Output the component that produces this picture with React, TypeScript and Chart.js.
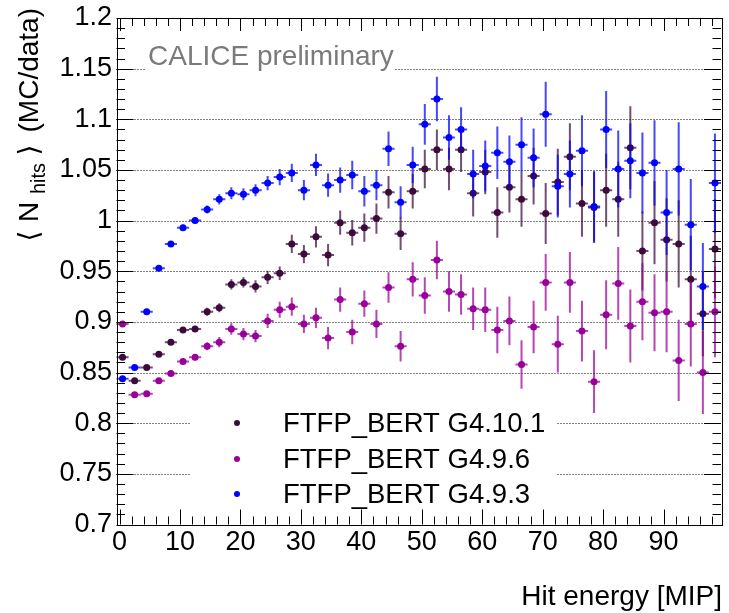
import React, { useEffect, useRef } from 'react';
import { Chart, registerables } from 'chart.js';

Chart.register(...registerables);

// ---- data ----
const binCenters = [
  0.5, 2.5, 4.5, 6.5, 8.5, 10.5, 12.5, 14.5, 16.5, 18.5,
  20.5, 22.5, 24.5, 26.5, 28.5, 30.5, 32.5, 34.5, 36.5, 38.5,
  40.5, 42.5, 44.5, 46.5, 48.5, 50.5, 52.5, 54.5, 56.5, 58.5,
  60.5, 62.5, 64.5, 66.5, 68.5, 70.5, 72.5, 74.5, 76.5, 78.5,
  80.5, 82.5, 84.5, 86.5, 88.5, 90.5, 92.5, 94.5, 96.5, 98.5,
];
const binHalfWidth = 1;

const seriesLabels = ['FTFP_BERT G4.10.1', 'FTFP_BERT G4.9.6', 'FTFP_BERT G4.9.3'];
const seriesColors = ['#3c0b3c', '#990099', '#0000ff'];
const seriesErrColors = ['rgba(60,11,60,0.72)', 'rgba(153,0,153,0.72)', 'rgba(0,0,255,0.72)'];

const g4101 = [
  0.865, 0.842, 0.855, 0.868, 0.880, 0.892, 0.893, 0.910, 0.914, 0.937,
  0.939, 0.935, 0.944, 0.948, 0.977, 0.967, 0.984, 0.966, 0.998, 0.988,
  0.993, 1.002, 1.028, 0.987, 1.029, 1.051, 1.070, 1.051, 1.070, 1.027,
  1.048, 1.008, 1.033, 1.021, 1.044, 1.007, 1.038, 1.063, 1.017, 1.013,
  1.030, 1.021, 1.072, 0.970, 0.998, 0.981, 0.977, 0.942, 0.908, 0.972,
];
const g4101Err = [
  0.002, 0.002, 0.002, 0.002, 0.002, 0.003, 0.003, 0.004, 0.0045, 0.005,
  0.005, 0.006, 0.0065, 0.0066, 0.009, 0.009, 0.0105, 0.011, 0.012, 0.0125,
  0.014, 0.015, 0.016, 0.016, 0.017, 0.019, 0.020, 0.021, 0.022, 0.023,
  0.022, 0.025, 0.025, 0.027, 0.028, 0.030, 0.033, 0.033, 0.033, 0.035,
  0.036, 0.037, 0.041, 0.039, 0.041, 0.041, 0.043, 0.043, 0.042, 0.049,
];

const g496 = [
  0.898, 0.828, 0.829, 0.842, 0.849, 0.861, 0.865, 0.876, 0.880, 0.893,
  0.888, 0.886, 0.901, 0.912, 0.915, 0.898, 0.904, 0.884, 0.922, 0.890,
  0.918, 0.898, 0.934, 0.876, 0.942, 0.926, 0.961, 0.930, 0.927, 0.913,
  0.912, 0.892, 0.901, 0.858, 0.895, 0.939, 0.878, 0.939, 0.891, 0.841,
  0.907, 0.938, 0.896, 0.920, 0.909, 0.910, 0.862, 0.898, 0.850, 0.910,
];
const g496Err = [
  0.002, 0.002, 0.002, 0.002, 0.002, 0.003, 0.003, 0.004, 0.005, 0.0056,
  0.006, 0.006, 0.007, 0.008, 0.009, 0.009, 0.010, 0.011, 0.012, 0.012,
  0.013, 0.014, 0.015, 0.015, 0.017, 0.018, 0.019, 0.020, 0.020, 0.021,
  0.022, 0.023, 0.024, 0.024, 0.026, 0.028, 0.028, 0.030, 0.030, 0.031,
  0.034, 0.036, 0.036, 0.038, 0.038, 0.040, 0.040, 0.042, 0.041, 0.045,
];

const g493 = [
  0.844, 0.855, 0.910, 0.953, 0.977, 0.993, 1.000, 1.011, 1.021, 1.027,
  1.026, 1.030, 1.037, 1.043, 1.047, 1.030, 1.055, 1.035, 1.040, 1.045,
  1.029, 1.035, 1.071, 1.018, 1.055, 1.095, 1.120, 1.082, 1.090, 1.046,
  1.054, 1.067, 1.058, 1.075, 1.062, 1.105, 1.034, 1.046, 1.069, 1.014,
  1.090, 1.051, 1.059, 1.047, 1.057, 1.008, 1.051, 0.996, 0.935, 1.037,
];
const g493Err = [
  0.002, 0.002, 0.002, 0.002, 0.002, 0.003, 0.003, 0.004, 0.005, 0.006,
  0.006, 0.006, 0.007, 0.008, 0.009, 0.010, 0.011, 0.0115, 0.0125, 0.014,
  0.015, 0.015, 0.017, 0.016, 0.018, 0.020, 0.022, 0.022, 0.022, 0.024,
  0.025, 0.026, 0.026, 0.027, 0.029, 0.032, 0.031, 0.033, 0.035, 0.035,
  0.038, 0.038, 0.037, 0.040, 0.042, 0.042, 0.046, 0.045, 0.043, 0.049,
];

const seriesValues = [g4101, g496, g493];
const seriesErrors = [g4101Err, g496Err, g493Err];
const seriesDrawOrder = [2, 1, 0];

const xTickValues = [0, 10, 20, 30, 40, 50, 60, 70, 80, 90];
const xTickLabels = ['0', '10', '20', '30', '40', '50', '60', '70', '80', '90'];
const yTickValues = [0.7, 0.75, 0.8, 0.85, 0.9, 0.95, 1.0, 1.05, 1.1, 1.15, 1.2];
const yTickLabels = ['0.7', '0.75', '0.8', '0.85', '0.9', '0.95', '1', '1.05', '1.1', '1.15', '1.2'];
const xMin = -0.5;
const xMax = 99.5;
const yMin = 0.7;
const yMax = 1.2;
const xMinorStep = 2;
const yMinorStep = 0.01;

const xTitle = 'Hit energy [MIP]';
const annotation = 'CALICE preliminary';

const FONT = '"Liberation Sans", Arial, Helvetica, sans-serif';

const rootPlugin = {
  id: 'rootStyle',
  beforeDatasetsDraw(chart: any) {
    const ctx = chart.ctx;
    const { left, right } = chart.chartArea;
    const ys = chart.scales.y;
    ctx.save();
    ctx.strokeStyle = '#000';
    ctx.lineWidth = 1;
    ctx.setLineDash([1, 2]);
    for (const v of yTickValues) {
      if (v <= yMin + 1e-9 || v >= yMax - 1e-9) continue;
      const py = Math.round(ys.getPixelForValue(v)) + 0.5;
      ctx.beginPath();
      ctx.moveTo(left, py);
      ctx.lineTo(right, py);
      ctx.stroke();
    }
    ctx.setLineDash([]);
    // white boxes behind legend and annotation text
    ctx.fillStyle = '#fff';
    ctx.fillRect(190, 398, 366, 117);
    ctx.fillRect(146, 42, 248, 29);
    ctx.restore();
  },
  beforeDatasetDraw(chart: any, args: any) {
    const i = args.index;
    const ctx = chart.ctx;
    const xs = chart.scales.x;
    const ys = chart.scales.y;
    const vals = seriesValues[i];
    const errs = seriesErrors[i];
    ctx.save();
    ctx.strokeStyle = seriesErrColors[i];
    ctx.lineWidth = 2;
    for (let k = 0; k < vals.length; k++) {
      const px = xs.getPixelForValue(binCenters[k]);
      const py = ys.getPixelForValue(vals[k]);
      const x0 = xs.getPixelForValue(binCenters[k] - binHalfWidth);
      const x1 = xs.getPixelForValue(binCenters[k] + binHalfWidth);
      const y0 = ys.getPixelForValue(vals[k] - errs[k]);
      const y1 = ys.getPixelForValue(vals[k] + errs[k]);
      ctx.beginPath();
      ctx.moveTo(x0, py);
      ctx.lineTo(x1, py);
      ctx.moveTo(px, y0);
      ctx.lineTo(px, y1);
      ctx.stroke();
    }
    ctx.restore();
  },
  afterDraw(chart: any) {
    const ctx = chart.ctx;
    const { left, right, top, bottom } = chart.chartArea;
    const xs = chart.scales.x;
    const ys = chart.scales.y;
    ctx.save();
    // frame
    ctx.strokeStyle = '#000';
    ctx.lineWidth = 1;
    ctx.strokeRect(Math.round(left) + 0.5, Math.round(top) + 0.5, Math.round(right - left), Math.round(bottom - top));
    // x ticks
    ctx.beginPath();
    for (let v = 0; v <= xMax; v += xMinorStep) {
      const major = xTickValues.includes(v);
      const len = major ? 15 : 8;
      const px = Math.round(xs.getPixelForValue(v)) + 0.5;
      ctx.moveTo(px, bottom);
      ctx.lineTo(px, bottom - len);
      ctx.moveTo(px, top);
      ctx.lineTo(px, top + (major ? 13 : 8));
    }
    // y ticks
    for (let j = 0; j <= Math.round((yMax - yMin) / yMinorStep); j++) {
      const v = yMin + j * yMinorStep;
      const major = j % 5 === 0;
      const len = major ? 17 : 8.5;
      const py = Math.round(ys.getPixelForValue(v)) + 0.5;
      ctx.moveTo(left, py);
      ctx.lineTo(left + len, py);
      ctx.moveTo(right, py);
      ctx.lineTo(right - len, py);
    }
    ctx.stroke();

    // annotation
    ctx.fillStyle = '#7a7a7a';
    ctx.font = `28px ${FONT}`;
    ctx.textAlign = 'left';
    ctx.textBaseline = 'alphabetic';
    ctx.fillText(annotation, 148, 65);

    // legend
    const legendY = [423, 459, 494];
    ctx.font = `27.5px ${FONT}`;
    ctx.textBaseline = 'middle';
    for (let i = 0; i < seriesLabels.length; i++) {
      ctx.fillStyle = seriesColors[i];
      ctx.beginPath();
      ctx.arc(237, legendY[i], 3, 0, Math.PI * 2);
      ctx.fill();
      ctx.fillStyle = '#000';
      ctx.fillText(seriesLabels[i], 283, legendY[i] + 1);
    }

    // x title
    ctx.font = `28px ${FONT}`;
    ctx.textBaseline = 'alphabetic';
    ctx.textAlign = 'right';
    ctx.fillStyle = '#000';
    ctx.fillText(xTitle, 722, 605);

    // y title (rotated)
    ctx.translate(38, 0);
    ctx.rotate(-Math.PI / 2);
    ctx.font = `28px ${FONT}`;
    ctx.textAlign = 'right';
    ctx.fillText('(MC/data)', -8, 0);
    ctx.textAlign = 'center';
    ctx.font = `28px "DejaVu Sans", ${FONT}`;
    ctx.fillText('\u27E9', -150, 0);
    ctx.fillText('\u27E8', -236, 0);
    ctx.font = `28px ${FONT}`;
    ctx.textAlign = 'left';
    ctx.fillText('N', -222, 0);
    ctx.font = `20px ${FONT}`;
    ctx.fillText('hits', -194, 7);
    ctx.restore();
  },
};

export default function App() {
  const canvasRef = useRef<HTMLCanvasElement | null>(null);

  useEffect(() => {
    if (!canvasRef.current) return;
    const datasets = seriesLabels.map((label, i) => ({
      label,
      data: binCenters.map((x, k) => ({ x, y: seriesValues[i][k] })),
      backgroundColor: seriesColors[i],
      borderColor: seriesColors[i],
      pointRadius: 3.5,
      pointBorderWidth: 0,
      pointHoverRadius: 3.5,
      showLine: false,
      order: seriesDrawOrder[i],
    }));
    const chart = new Chart(canvasRef.current, {
      type: 'scatter',
      data: { datasets },
      options: {
        animation: false,
        responsive: false,
        devicePixelRatio: 1,
        layout: { padding: { top: 15, right: 8, left: 0, bottom: 0 } },
        plugins: {
          legend: { display: false },
          tooltip: { enabled: false },
        },
        scales: {
          x: {
            type: 'linear',
            min: xMin,
            max: xMax,
            grid: { display: false, drawTicks: false },
            border: { display: false },
            afterBuildTicks: (scale: any) => {
              scale.ticks = xTickValues.map((v) => ({ value: v }));
            },
            afterFit: (scale: any) => {
              scale.height = 88.5;
            },
            ticks: {
              autoSkip: false,
              maxRotation: 0,
              padding: 4.5,
              color: '#000',
              font: { family: FONT, size: 27, lineHeight: 1 },
              callback: (_v: any, idx: number) => xTickLabels[idx],
            },
          },
          y: {
            type: 'linear',
            min: yMin,
            max: yMax,
            grid: { display: false, drawTicks: false },
            border: { display: false },
            afterBuildTicks: (scale: any) => {
              scale.ticks = yTickValues.map((v) => ({ value: v }));
            },
            afterFit: (scale: any) => {
              scale.width = 116.5;
            },
            ticks: {
              autoSkip: false,
              padding: 4.5,
              color: '#000',
              font: { family: FONT, size: 27, lineHeight: 1 },
              callback: (_v: any, idx: number) => yTickLabels[idx],
            },
          },
        },
      },
      plugins: [rootPlugin],
    } as any);
    return () => chart.destroy();
  }, []);

  return (
    <div style={{ position: 'absolute', left: 0, top: 0, width: 729, height: 613, background: '#fff' }}>
      <canvas ref={canvasRef} width={729} height={613} style={{ width: 729, height: 613, display: 'block' }} />
    </div>
  );
}
